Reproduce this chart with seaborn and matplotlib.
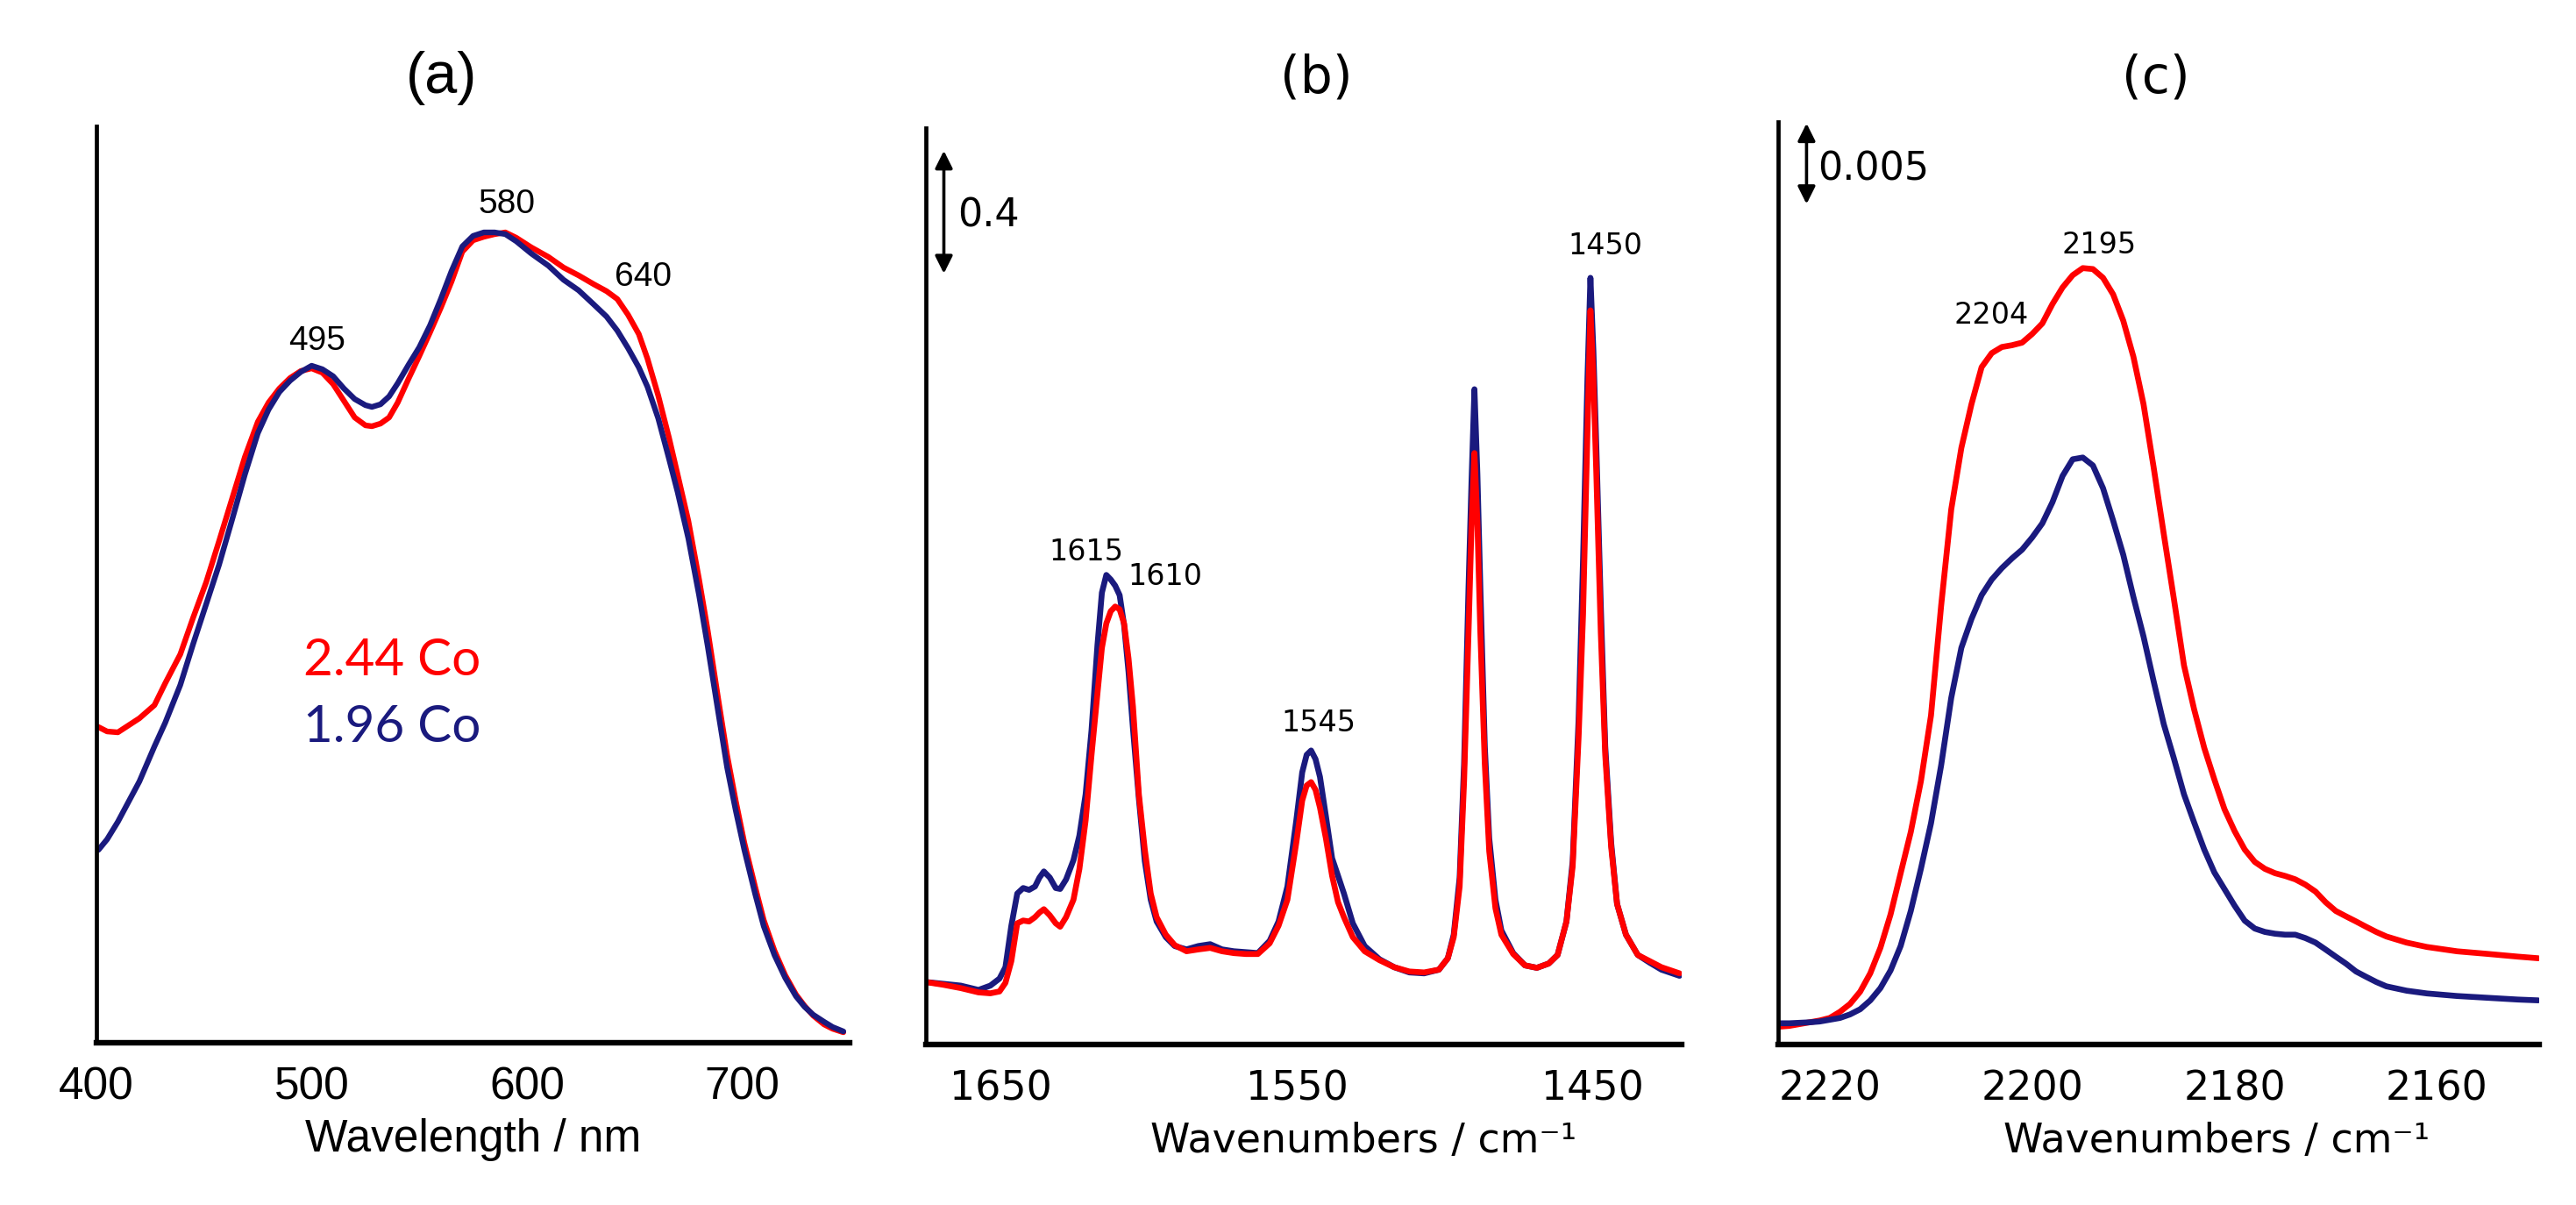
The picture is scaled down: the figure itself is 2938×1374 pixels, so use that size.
import matplotlib
matplotlib.use("Agg")
import matplotlib.pyplot as plt
import seaborn as sns

# ---- panel (a): UV-vis, wavelength in nm, absorbance in a.u.
wavelength = [401, 405, 410, 415, 420, 427, 432, 439, 445, 451,
              457, 463, 469, 475, 480, 485, 490, 495, 500, 505,
              510, 515, 520, 525, 528, 532, 536, 540, 545, 550,
              555, 560, 565, 570, 575, 580, 585, 590, 595, 602,
              610, 617, 624, 631, 637, 642, 647, 652, 656, 661,
              666, 670, 675, 680, 684, 689, 693, 697, 701, 706,
              710, 715, 720, 725, 729, 733, 738, 742, 747]
uv_co244 = [0.360, 0.355, 0.354, 0.362, 0.370, 0.385, 0.410, 0.443, 0.485, 0.525,
            0.572, 0.620, 0.668, 0.708, 0.730, 0.746, 0.758, 0.766, 0.769, 0.764,
            0.751, 0.732, 0.713, 0.704, 0.703, 0.706, 0.713, 0.730, 0.757, 0.783,
            0.810, 0.838, 0.868, 0.902, 0.915, 0.919, 0.922, 0.924, 0.918, 0.907,
            0.896, 0.884, 0.875, 0.865, 0.857, 0.848, 0.830, 0.808, 0.780, 0.738,
            0.690, 0.648, 0.595, 0.528, 0.470, 0.390, 0.328, 0.276, 0.228, 0.178,
            0.140, 0.105, 0.077, 0.055, 0.042, 0.031, 0.021, 0.016, 0.012]
uv_co196 = [0.220, 0.232, 0.252, 0.275, 0.298, 0.338, 0.365, 0.408, 0.455, 0.500,
            0.545, 0.596, 0.648, 0.695, 0.722, 0.742, 0.755, 0.765, 0.772, 0.768,
            0.760, 0.746, 0.734, 0.727, 0.725, 0.728, 0.737, 0.752, 0.773, 0.793,
            0.818, 0.848, 0.880, 0.908, 0.920, 0.924, 0.924, 0.922, 0.914, 0.900,
            0.886, 0.870, 0.858, 0.842, 0.828, 0.812, 0.792, 0.770, 0.748, 0.712,
            0.666, 0.628, 0.575, 0.510, 0.452, 0.375, 0.314, 0.265, 0.220, 0.170,
            0.133, 0.100, 0.074, 0.053, 0.041, 0.032, 0.024, 0.018, 0.013]

# ---- panel (b): IR, 1680-1420 cm-1 (absorbance)
wn_b = [1675.6, 1669.6, 1663.6, 1657.6, 1653.6, 1650.5, 1648.5, 1646.5, 1644.5, 1642.5,
        1640.5, 1638.5, 1637.0, 1635.5, 1633.5, 1631.5, 1630.0, 1628.0, 1625.5, 1623.5,
        1621.4, 1619.4, 1617.4, 1615.9, 1614.4, 1612.9, 1611.4, 1609.9, 1608.4, 1606.9,
        1605.4, 1603.4, 1601.4, 1599.4, 1597.4, 1594.3, 1591.3, 1587.3, 1583.3, 1579.3,
        1575.3, 1571.3, 1567.2, 1563.2, 1559.2, 1556.2, 1553.2, 1550.2, 1548.2, 1546.7,
        1545.2, 1543.7, 1542.2, 1540.2, 1538.1, 1536.1, 1534.1, 1531.1, 1527.1, 1522.1,
        1517.1, 1512.0, 1507.0, 1502.0, 1499.0, 1497.0, 1495.0, 1493.5, 1492.0, 1491.0,
        1490.0, 1489.0, 1488.0, 1486.5, 1485.0, 1482.9, 1480.9, 1476.9, 1472.9, 1468.9,
        1464.9, 1461.9, 1458.9, 1456.8, 1454.8, 1453.3, 1451.8, 1450.8, 1449.8, 1448.8,
        1447.3, 1445.8, 1443.8, 1441.8, 1438.8, 1434.8, 1430.8, 1426.8, 1420.7]
ir_b_co196 = [0.203, 0.197, 0.191, 0.177, 0.191, 0.214, 0.251, 0.386, 0.491, 0.509,
              0.503, 0.514, 0.543, 0.563, 0.543, 0.509, 0.506, 0.537, 0.600, 0.680,
              0.814, 1.023, 1.300, 1.471, 1.529, 1.514, 1.494, 1.463, 1.366, 1.214,
              1.029, 0.800, 0.597, 0.471, 0.400, 0.349, 0.320, 0.309, 0.320, 0.326,
              0.309, 0.303, 0.300, 0.297, 0.337, 0.400, 0.514, 0.729, 0.886, 0.943,
              0.957, 0.929, 0.871, 0.743, 0.606, 0.549, 0.491, 0.394, 0.320, 0.277,
              0.251, 0.234, 0.231, 0.243, 0.280, 0.357, 0.543, 0.914, 1.486, 1.829,
              2.134, 1.857, 1.486, 0.971, 0.671, 0.471, 0.371, 0.297, 0.257, 0.249,
              0.263, 0.291, 0.400, 0.597, 1.057, 1.577, 2.171, 2.497, 2.257, 1.943,
              1.429, 0.971, 0.657, 0.457, 0.357, 0.291, 0.266, 0.243, 0.223]
ir_b_co244 = [0.203, 0.194, 0.183, 0.169, 0.166, 0.172, 0.200, 0.271, 0.394, 0.403,
              0.400, 0.414, 0.429, 0.440, 0.420, 0.394, 0.383, 0.414, 0.471, 0.571,
              0.729, 0.943, 1.143, 1.291, 1.371, 1.411, 1.426, 1.417, 1.371, 1.257,
              1.100, 0.814, 0.634, 0.491, 0.414, 0.357, 0.323, 0.303, 0.309, 0.314,
              0.303, 0.297, 0.294, 0.294, 0.329, 0.386, 0.471, 0.657, 0.794, 0.843,
              0.854, 0.829, 0.771, 0.671, 0.549, 0.463, 0.414, 0.349, 0.303, 0.274,
              0.251, 0.237, 0.234, 0.243, 0.280, 0.349, 0.514, 0.857, 1.343, 1.686,
              1.926, 1.700, 1.343, 0.914, 0.629, 0.443, 0.357, 0.294, 0.257, 0.249,
              0.263, 0.291, 0.400, 0.580, 1.000, 1.400, 2.000, 2.391, 2.171, 1.857,
              1.343, 0.943, 0.643, 0.457, 0.357, 0.291, 0.271, 0.251, 0.231]

# ---- panel (c): IR, 2225-2150 cm-1 (absorbance x 1000)
wn_c = [2225, 2224, 2223, 2222, 2221, 2220, 2219, 2218, 2217, 2216,
        2215, 2214, 2213, 2212, 2211, 2210, 2209, 2208, 2207, 2206,
        2205, 2204, 2203, 2202, 2201, 2200, 2199, 2198, 2197, 2196,
        2195, 2194, 2193, 2192, 2191, 2190, 2189, 2188, 2187, 2186,
        2185, 2184, 2183, 2182, 2181, 2180, 2179, 2178, 2177, 2176,
        2175, 2174, 2173, 2172, 2171, 2170, 2169, 2168, 2167, 2166,
        2165, 2163, 2161, 2158, 2155, 2152, 2150]
ir_c_co244 = [1.09, 1.14, 1.25, 1.36, 1.47, 1.63, 2.01, 2.50, 3.26, 4.40,
              5.98, 8.04, 10.60, 13.15, 16.30, 20.38, 27.17, 33.15, 36.96, 39.67,
              41.96, 42.83, 43.21, 43.32, 43.48, 44.02, 44.67, 45.87, 46.90, 47.66,
              48.10, 48.04, 47.50, 46.47, 44.84, 42.61, 39.67, 35.76, 31.63, 27.61,
              23.48, 20.76, 18.37, 16.41, 14.57, 13.21, 12.07, 11.30, 10.87, 10.60,
              10.43, 10.22, 9.89, 9.46, 8.80, 8.26, 7.93, 7.61, 7.28, 6.96,
              6.68, 6.30, 6.03, 5.76, 5.60, 5.43, 5.33]
ir_c_co196 = [1.30, 1.30, 1.33, 1.36, 1.41, 1.52, 1.63, 1.85, 2.17, 2.72,
              3.48, 4.57, 6.09, 8.26, 10.87, 13.70, 17.28, 21.47, 24.57, 26.36,
              27.83, 28.80, 29.51, 30.11, 30.65, 31.41, 32.28, 33.59, 35.22, 36.25,
              36.36, 35.87, 34.46, 32.45, 30.33, 27.72, 25.27, 22.50, 19.84, 17.72,
              15.49, 13.75, 12.07, 10.65, 9.62, 8.59, 7.66, 7.17, 6.96, 6.85,
              6.79, 6.79, 6.58, 6.30, 5.87, 5.43, 5.00, 4.51, 4.18, 3.86,
              3.59, 3.32, 3.15, 2.99, 2.88, 2.77, 2.72]

RED = "#ff0000"
NAVY = "#1a1a7e"

sns.set_theme(style="white")
plt.rcParams['font.family'] = ['Liberation Sans', 'DejaVu Sans']
plt.rcParams['text.color'] = 'black'
plt.rcParams['axes.labelcolor'] = 'black'
plt.rcParams['xtick.color'] = 'black'

fig = plt.figure(figsize=(14.69, 6.87), dpi=200)
ax_a = fig.add_axes([0.0374, 0.1346, 0.2925, 0.7606])
ax_b = fig.add_axes([0.3594, 0.1334, 0.2935, 0.7606])
ax_c = fig.add_axes([0.6903, 0.1334, 0.2954, 0.7653])

for ax in (ax_a, ax_b, ax_c):
    for side in ("top", "right"):
        ax.spines[side].set_visible(False)
    ax.spines["left"].set_color("black")
    ax.spines["bottom"].set_color("black")
    ax.spines["left"].set_linewidth(1.7)
    ax.spines["bottom"].set_linewidth(2.3)
    ax.set_yticks([])

# (a)
sns.lineplot(x=wavelength, y=uv_co244, ax=ax_a, color=RED, lw=2.3, errorbar=None)
sns.lineplot(x=wavelength, y=uv_co196, ax=ax_a, color=NAVY, lw=2.3, errorbar=None)
ax_a.set_xlim(400, 750)
ax_a.set_ylim(0, 1.045)
ax_a.set_xticks([400, 500, 600, 700])
ax_a.tick_params(axis="x", direction="out", length=2.5, width=0.8, pad=7, labelsize=18.5)
ax_a.set_xlabel("Wavelength / nm", fontsize=18.5, va="center")
ax_a.xaxis.set_label_coords(0.5, -0.106)
ax_a.set_ylabel("Absorbance / a.u.", fontsize=18.5, va="center")
ax_a.yaxis.set_label_coords(-0.042, 0.527)
for lbl, x, y in [("495", 502.4, 0.800), ("580", 590.7, 0.956), ("640", 654, 0.873)]:
    ax_a.text(x, y, lbl, fontsize=14, ha="center", va="center")
ax_a.text(496, 0.436, "2.44 Co", color=RED, fontsize=21, family="Lato", ha="left", va="center")
ax_a.text(496, 0.360, "1.96 Co", color=NAVY, fontsize=21, family="Lato", ha="left", va="center")

# (b)
sns.lineplot(x=wn_b, y=ir_b_co196, ax=ax_b, color=NAVY, lw=2.4, errorbar=None)
sns.lineplot(x=wn_b, y=ir_b_co244, ax=ax_b, color=RED, lw=2.4, errorbar=None)
ax_b.set_xlim(1675.4, 1419.9)
ax_b.set_ylim(0, 2.986)
ax_b.set_xticks([1650, 1550, 1450])
ax_b.set_xticks([1600, 1500], minor=True)
ax_b.annotate("", xy=(1669.3, 2.911), xytext=(1669.3, 2.511),
              arrowprops=dict(arrowstyle="<|-|>", color="black", lw=1.3, mutation_scale=15,
                              shrinkA=0, shrinkB=0))
ax_b.text(1664.7, 2.70, "0.4", fontsize=16, family="DejaVu Sans", ha="left", va="center")
for lbl, x, y in [("1615", 1621.2, 1.603), ("1610", 1594.5, 1.523),
                  ("1545", 1542.6, 1.046), ("1450", 1445.7, 2.600)]:
    ax_b.text(x, y, lbl, fontsize=12, family="DejaVu Sans", ha="center", va="center")
ax_b.set_xlabel("Wavenumbers / cm⁻¹", fontsize=16.5, family="DejaVu Sans", va="center")
ax_b.xaxis.set_label_coords(0.579, -0.106)
ax_b.set_ylabel("Absorbance", fontsize=16.5, family="DejaVu Sans", va="center")
ax_b.yaxis.set_label_coords(-0.043, 0.560)

# (c)
sns.lineplot(x=wn_c, y=ir_c_co244, ax=ax_c, color=RED, lw=2.4, errorbar=None)
sns.lineplot(x=wn_c, y=ir_c_co196, ax=ax_c, color=NAVY, lw=2.4, errorbar=None)
ax_c.set_xlim(2225.1, 2149.9)
ax_c.set_ylim(0, 57.15)
ax_c.set_xticks([2220, 2200, 2180, 2160])
ax_c.annotate("", xy=(2222.3, 57.07), xytext=(2222.3, 52.07),
              arrowprops=dict(arrowstyle="<|-|>", color="black", lw=1.3, mutation_scale=15,
                              shrinkA=0, shrinkB=0))
ax_c.text(2221.2, 54.2, "0.005", fontsize=16, family="DejaVu Sans", ha="left", va="center")
for lbl, x, y in [("2195", 2193.4, 49.5), ("2204", 2204.0, 45.2)]:
    ax_c.text(x, y, lbl, fontsize=12, family="DejaVu Sans", ha="center", va="center")
ax_c.set_xlabel("Wavenumbers / cm⁻¹", fontsize=16.5, family="DejaVu Sans", va="center")
ax_c.xaxis.set_label_coords(0.576, -0.1056)
ax_c.set_ylabel("Absorbance", fontsize=16.5, family="DejaVu Sans", va="center")
ax_c.yaxis.set_label_coords(-0.044, 0.549)

for ax in (ax_b, ax_c):
    ax.tick_params(axis="x", which="both", direction="out", length=2.5, width=0.8,
                   pad=8, labelsize=16.5)
    for t in ax.get_xticklabels():
        t.set_family("DejaVu Sans")

# panel letters
fig.text(0.1715, 0.935, "(a)", fontsize=24, ha="center", va="center")
fig.text(0.511, 0.935, "(b)", fontsize=21, family="DejaVu Sans", ha="center", va="center")
fig.text(0.837, 0.935, "(c)", fontsize=21, family="DejaVu Sans", ha="center", va="center")

fig.savefig("out.png", dpi=200)
